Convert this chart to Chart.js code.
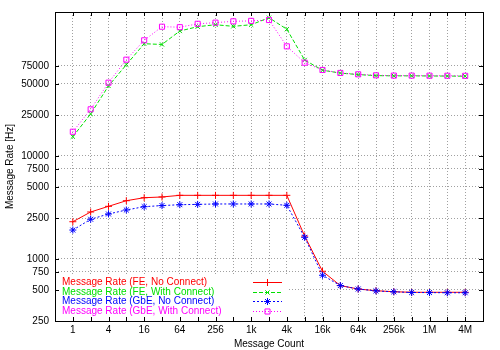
<!DOCTYPE html>
<html>
<head>
<meta charset="utf-8">
<script src="https://cdn.jsdelivr.net/npm/chart.js@4/dist/chart.umd.min.js"></script>
<style>
  html, body { margin: 0; padding: 0; background: #fff; }
  #wrap { width: 500px; height: 350px; }
</style>
</head>
<body>
<div id="wrap"><canvas id="myChart"></canvas></div>
<script>
// message counts, 1 .. 4M
var counts = [1, 2, 4, 8, 16, 32, 64, 128, 256, 512, 1024, 2048, 4096, 8192, 16384,
    32768, 65536, 131072, 262144, 524288, 1048576, 2097152, 4194304];
var xTickLabels = ['1', '4', '16', '64', '256', '1k', '4k', '16k', '64k', '256k', '1M', '4M'];
var yTicks = [250, 500, 750, 1000, 2500, 5000, 7500, 10000, 25000, 50000, 75000];

var feNoConnect = [2300, 2860, 3245, 3680, 3935, 4000, 4150, 4150, 4150, 4150, 4150, 4150,
    4150, 1670, 760, 552, 511, 492, 481, 475, 475, 475, 475];
var feWithConnect = [15400, 25600, 47900, 76900, 123000, 121000, 163500, 180000, 188000,
    181500, 188000, 220000, 170000, 85500, 68000, 63800, 61700, 60300, 60000, 60000, 59800,
    59700, 59500];
var gbeNoConnect = [1910, 2430, 2735, 2990, 3220, 3300, 3365, 3390, 3420, 3420, 3420, 3420,
    3320, 1623, 695, 552, 511, 490, 480, 473, 472, 470, 470];
var gbeWithConnect = [17200, 28400, 51500, 86100, 132800, 180000, 178000, 192000, 197000,
    203000, 205000, 209000, 116000, 80500, 68400, 64000, 62100, 60700, 60300, 60300, 60200,
    60100, 60000];

var FONT = { family: "'Liberation Sans', Arial, sans-serif", size: 10 };

function toPoints(values) {
    return values.map(function (v, i) {
        return { x: Math.log2(counts[i]), y: v };
    });
}

function series(label, values, color, dash, style, radius, order) {
    return {
        label: label,
        data: toPoints(values),
        borderColor: color,
        backgroundColor: color,
        pointBorderColor: color,
        pointBackgroundColor: 'rgba(0,0,0,0)',
        borderWidth: 1,
        borderDash: dash,
        pointStyle: style,
        pointRadius: radius,
        pointBorderWidth: 1,
        tension: 0,
        fill: false,
        order: order
    };
}

// gnuplot-ish frame: border, inward ticks, boxed key at bottom left
var framePlugin = {
    id: 'frame',
    afterDatasetsDraw: function (chart) {
        var ctx = chart.ctx;
        var a = chart.chartArea;
        var xs = chart.scales.x, ys = chart.scales.y;
        ctx.save();

        // key
        ctx.fillStyle = '#fff';
        ctx.fillRect(a.left + 1, 276, 287 - a.left - 1, a.bottom - 276 - 1);
        ctx.font = FONT.size + 'px ' + FONT.family;
        ctx.textAlign = 'left';
        ctx.textBaseline = 'middle';
        chart.data.datasets.forEach(function (ds, i) {
            var y = Math.round(282 + i * 9.7) + 0.5;
            ctx.fillStyle = ds.borderColor;
            ctx.fillText(ds.label, 62, y);
            ctx.strokeStyle = ds.borderColor;
            ctx.lineWidth = 1;
            ctx.setLineDash(ds.borderDash);
            ctx.beginPath();
            ctx.moveTo(253, y);
            ctx.lineTo(282, y);
            ctx.stroke();
            ctx.setLineDash([]);
            ctx.fillStyle = 'rgba(0,0,0,0)';
            Chart.helpers.drawPoint(ctx, {
                pointStyle: ds.pointStyle, radius: ds.pointRadius, rotation: 0, borderWidth: 1
            }, 267.5, y);
        });

        // ticks
        ctx.strokeStyle = '#000';
        ctx.lineWidth = 1;
        ctx.setLineDash([]);
        ctx.beginPath();
        counts.forEach(function (c) {
            var px = Math.round(xs.getPixelForValue(Math.log2(c))) + 0.5;
            ctx.moveTo(px, a.top); ctx.lineTo(px, a.top + 4);
            ctx.moveTo(px, a.bottom); ctx.lineTo(px, a.bottom - 4);
        });
        yTicks.forEach(function (v) {
            var py = Math.round(ys.getPixelForValue(v)) + 0.5;
            ctx.moveTo(a.left, py); ctx.lineTo(a.left + 4, py);
            ctx.moveTo(a.right, py); ctx.lineTo(a.right - 4, py);
        });
        ctx.stroke();

        // border
        ctx.strokeRect(Math.round(a.left) + 0.5, Math.round(a.top) + 0.5,
            Math.round(a.right - a.left), Math.round(a.bottom - a.top));
        ctx.restore();
    }
};

var ctx = document.getElementById('myChart');
var myChart = new Chart(ctx, {
    type: 'line',
    data: {
        datasets: [
            series('Message Rate (FE, No Connect)', feNoConnect, '#ff0000', [], 'cross', 3.5, 4),
            series('Message Rate (FE, With Connect)', feWithConnect, '#00e000', [4, 2], 'crossRot', 3, 3),
            series('Message Rate (GbE, No Connect)', gbeNoConnect, '#0000ff', [2, 2], 'star', 3.5, 2),
            series('Message Rate (GbE, With Connect)', gbeWithConnect, '#ff00ff', [1, 2], 'rect', 3.6, 1)
        ]
    },
    plugins: [framePlugin],
    options: {
        responsive: true,
        maintainAspectRatio: false,
        animation: false,
        layout: { padding: { top: 12, right: 17, left: 0, bottom: 0 } },
        plugins: {
            legend: { display: false },
            title: { display: false },
            tooltip: { enabled: false }
        },
        scales: {
            x: {
                type: 'linear',
                min: -1,
                max: 23,
                afterBuildTicks: function (scale) {
                    scale.ticks = counts.map(function (c) { return { value: Math.log2(c) }; });
                },
                afterFit: function (scale) { scale.height = 29; },
                ticks: {
                    autoSkip: false,
                    maxRotation: 0,
                    padding: 3,
                    color: '#000',
                    font: FONT,
                    callback: function (v) {
                        return v % 2 === 0 ? xTickLabels[v / 2] : '';
                    }
                },
                grid: { color: '#a0a0a0', drawTicks: false, borderDash: [1, 2] },
                border: { display: false, dash: [1, 2] },
                title: {
                    display: true,
                    text: 'Message Count',
                    color: '#000',
                    font: FONT,
                    padding: { top: 0, bottom: 0 }
                }
            },
            y: {
                type: 'logarithmic',
                min: 250,
                max: 250000,
                afterBuildTicks: function (scale) {
                    scale.ticks = yTicks.map(function (v) { return { value: v }; });
                },
                afterFit: function (scale) { scale.width = 55; },
                ticks: {
                    padding: 6,
                    color: '#000',
                    font: FONT,
                    callback: function (v) { return String(v); }
                },
                grid: { color: '#a0a0a0', drawTicks: false, borderDash: [1, 2] },
                border: { display: false, dash: [1, 2] },
                title: {
                    display: true,
                    text: 'Message Rate [Hz]',
                    color: '#000',
                    font: FONT,
                    padding: { top: 4, bottom: 4 }
                }
            }
        }
    }
});
</script>
</body>
</html>
